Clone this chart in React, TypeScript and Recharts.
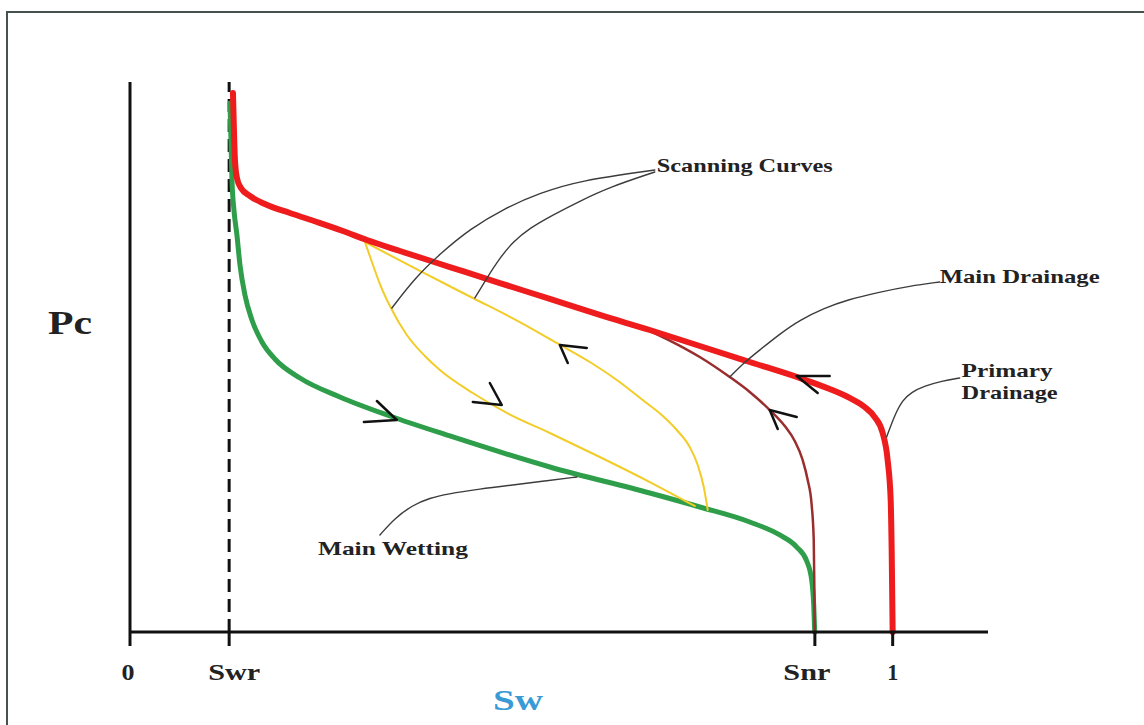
import React from "react";
import { LineChart, Line, XAxis, YAxis, ReferenceLine, ReferenceDot, Label } from "recharts";

// Capillary pressure hysteresis sketch: Pc against water saturation Sw.
// Each curve is a list of [Sw, Pc] pairs (Pc scaled 0..1).

const SWR = 0.13;
const SNR = 0.898;
const SW_MAX = 1.125;

const xTicks = [0, SWR, SNR, 1];
const xTickLabels = ["0", "Swr", "Snr", "1"];

const primaryDrainage = [
  [0.135, 0.98], [0.1363, 0.9127], [0.1376, 0.8582], [0.1402, 0.8255], [0.1455, 0.8073],
  [0.1573, 0.7927], [0.1769, 0.7782], [0.2097, 0.7618], [0.2451, 0.7455], [0.2792, 0.7291],
  [0.3106, 0.7127], [0.3539, 0.6927], [0.4194, 0.6636], [0.4849, 0.6345], [0.5505, 0.6055],
  [0.616, 0.5764], [0.6815, 0.5491], [0.7471, 0.52], [0.8126, 0.4909], [0.8781, 0.4618],
  [0.9174, 0.4418], [0.9436, 0.4255], [0.9633, 0.4091], [0.9764, 0.3909], [0.9869, 0.3618],
  [0.9934, 0.3127], [0.9974, 0.24], [0.9987, 0.1491], [1.0, 0],
];

const mainWetting = [
  [0.1311, 0.9618], [0.1324, 0.8945], [0.1337, 0.8218], [0.1363, 0.7673], [0.1402, 0.7218],
  [0.1442, 0.6673], [0.1507, 0.6127], [0.1599, 0.5673], [0.173, 0.5273], [0.19, 0.4964],
  [0.2228, 0.4618], [0.2752, 0.4273], [0.3408, 0.3927], [0.4194, 0.3564], [0.5505, 0.3],
  [0.6815, 0.2527], [0.7471, 0.2273], [0.8126, 0.2], [0.8519, 0.1764], [0.8742, 0.1545],
  [0.8873, 0.1291], [0.8938, 0.0945], [0.8965, 0.0491], [0.8978, 0],
];

const mainDrainage = [
  [0.6815, 0.5473], [0.7038, 0.5327], [0.7471, 0.5], [0.7864, 0.4636], [0.8126, 0.4364],
  [0.8388, 0.4036], [0.8585, 0.3745], [0.8716, 0.3473], [0.882, 0.3127], [0.8886, 0.2764],
  [0.8938, 0.2309], [0.8965, 0.1673], [0.8972, 0.0945], [0.8978, 0],
];

const scanWetting = [
  [0.308, 0.7091], [0.3172, 0.6727], [0.3277, 0.6327], [0.3408, 0.5927], [0.363, 0.54],
  [0.3866, 0.5018], [0.4063, 0.4764], [0.4495, 0.4345], [0.4941, 0.3982], [0.5505, 0.3618],
  [0.616, 0.3182], [0.6815, 0.2727], [0.7405, 0.2291],
];

const scanDrainage = [
  [0.308, 0.7091], [0.3801, 0.6564], [0.4495, 0.6073], [0.5111, 0.5636], [0.5596, 0.5255],
  [0.6029, 0.4909], [0.6383, 0.4582], [0.6723, 0.4218], [0.6972, 0.3945], [0.7169, 0.3673],
  [0.7339, 0.3364], [0.7444, 0.3036], [0.7523, 0.2636], [0.7575, 0.2218],
];

// Leader lines from the annotations to their curves
const leaderScanA = [
  [0.3434, 0.5891], [0.3736, 0.6436], [0.4063, 0.6873], [0.4456, 0.7327], [0.4915, 0.7709],
  [0.5374, 0.7982], [0.5898, 0.8209], [0.6881, 0.84],
];
const leaderScanB = [
  [0.4522, 0.6073], [0.4679, 0.6436], [0.4849, 0.68], [0.502, 0.7091], [0.5242, 0.7345],
  [0.5544, 0.7582], [0.5898, 0.7836], [0.6291, 0.8091], [0.6881, 0.8364],
];
const leaderMainDrainage = [
  [0.7864, 0.4636], [0.806, 0.4909], [0.8257, 0.5127], [0.8519, 0.5418], [0.8781, 0.5673],
  [0.9109, 0.5891], [0.9397, 0.6036], [0.983, 0.6182], [1.0223, 0.6291], [1.0616, 0.6364],
];
const leaderPrimary = [
  [0.9921, 0.3545], [1.0026, 0.3945], [1.0131, 0.4218], [1.0249, 0.4364], [1.0419, 0.4473],
  [1.0642, 0.4564], [1.0878, 0.4618],
];
const leaderWetting = [
  [0.3277, 0.1764], [0.3473, 0.2073], [0.3709, 0.2309], [0.3932, 0.2436], [0.4155, 0.2509],
  [0.4587, 0.26], [0.502, 0.2673], [0.5439, 0.2745], [0.5858, 0.2818],
];

// Direction chevrons: arm, tip, arm
const arrowWetting = [[0.3237, 0.42], [0.3499, 0.3855], [0.3067, 0.3818]];
const arrowScanWetting = [[0.4718, 0.4527], [0.4875, 0.4127], [0.4495, 0.4182]];
const arrowScanDrainage = [[0.599, 0.5164], [0.5636, 0.5218], [0.574, 0.4891]];
const arrowPrimary = [[0.9174, 0.4655], [0.8742, 0.4655], [0.9017, 0.4345]];
const arrowMainDrainage = [[0.8742, 0.3909], [0.8388, 0.4036], [0.8493, 0.3691]];

// Annotation texts and their anchors (Sw, Pc)
const noteTexts = ["Scanning Curves", "Main Drainage", "Primary", "Drainage", "Main Wetting"];
const noteSw = [0.6907, 1.0616, 1.0904, 1.0904, 0.2464];
const notePc = [0.8364, 0.6345, 0.4636, 0.4236, 0.14];

const toRows = (pairs: number[][]) => pairs.map(([sw, pc]) => ({ sw, pc }));

const SERIF = "'Liberation Serif', 'Times New Roman', serif";
const INK = "#222";

// Text widths (px) so the bold serif lettering spreads like the drawing
const noteWidths: Record<string, number> = {
  "Scanning Curves": 176,
  "Main Drainage": 160,
  Primary: 91,
  Drainage: 96,
  "Main Wetting": 150,
};

const StretchText = ({ x, y, width, size, fill = INK, anchor = "start", children }: any) => (
  <text
    x={x}
    y={y}
    fontFamily={SERIF}
    fontWeight="bold"
    fontSize={size}
    fill={fill}
    textAnchor={anchor}
    textLength={width}
    lengthAdjust="spacingAndGlyphs"
  >
    {children}
  </text>
);

const tickWidths = [13, 52, 47, 11];
const tickDx = [-2, 5, -8, 0];

const SwTick = (props: any) => {
  const { x, y, payload } = props;
  const i = xTicks.indexOf(payload.value);
  return (
    <StretchText x={x + tickDx[i]} y={y + 32} width={tickWidths[i]} size={24} anchor="middle">
      {xTickLabels[i]}
    </StretchText>
  );
};

const SwTitle = (props: any) => {
  const { x, y, width } = props.viewBox;
  return (
    <StretchText x={x + width / 2 - 41} y={y + 78} width={50} size={30} anchor="middle" fill="#3a9ad6">
      Sw
    </StretchText>
  );
};

const PcTitle = (props: any) => {
  const { x, y, width, height } = props.viewBox;
  return (
    <StretchText x={x + width - 60} y={y + height / 2 - 23} width={44} size={33} anchor="middle">
      Pc
    </StretchText>
  );
};

const curve = (data: number[][], stroke: string, width: number, key: string, type: any = "monotone") => (
  <Line
    key={key}
    data={toRows(data)}
    dataKey="pc"
    type={type}
    stroke={stroke}
    strokeWidth={width}
    strokeLinecap="round"
    strokeLinejoin="round"
    dot={false}
    activeDot={false}
    isAnimationActive={false}
  />
);

export default function App() {
  return (
    <div
      style={{
        position: "absolute",
        left: 0,
        top: 0,
        width: 1144,
        height: 725,
        background: "#fff",
        overflow: "hidden",
      }}
    >
      <div
        style={{
          position: "absolute",
          left: 6,
          top: 11,
          width: 1200,
          height: 800,
          borderTop: "2px solid #46524f",
          borderLeft: "2px solid #46524f",
        }}
      />
      <LineChart
        width={1144}
        height={725}
        margin={{ top: 82, right: 156, bottom: 0, left: 120 }}
        style={{ position: "absolute", left: 0, top: 0 }}
      >
        <XAxis
          type="number"
          dataKey="sw"
          domain={[0, SW_MAX]}
          ticks={xTicks}
          interval={0}
          height={93}
          allowDataOverflow
          axisLine={{ stroke: "#111", strokeWidth: 3 }}
          tickLine={{ stroke: "#111", strokeWidth: 3 }}
          tickSize={14}
          tick={<SwTick />}
          label={<Label content={SwTitle} />}
        />
        <YAxis
          type="number"
          domain={[0, 1]}
          width={10}
          tick={false}
          tickLine={false}
          axisLine={{ stroke: "#111", strokeWidth: 3 }}
          label={<Label content={PcTitle} />}
        />
        <ReferenceLine x={SWR} stroke="#111" strokeWidth={3} strokeDasharray="13 7" />

        {curve(mainWetting, "#2f9e4b", 5, "wet")}
        {curve(scanWetting, "#f2cc28", 2, "sw1")}
        {curve(scanDrainage, "#f2cc28", 2, "sd1")}
        {curve(mainDrainage, "#9a2d2d", 2.5, "md")}
        {curve(primaryDrainage, "#ee1c1c", 6, "pd")}

        {curve(leaderScanA, "#3c3c3c", 1.4, "l1", "basis")}
        {curve(leaderScanB, "#3c3c3c", 1.4, "l2", "basis")}
        {curve(leaderMainDrainage, "#3c3c3c", 1.4, "l3", "basis")}
        {curve(leaderPrimary, "#3c3c3c", 1.4, "l4", "basis")}
        {curve(leaderWetting, "#3c3c3c", 1.4, "l5", "basis")}

        {curve(arrowWetting, "#111", 2.5, "a1", "linear")}
        {curve(arrowScanWetting, "#111", 2.5, "a2", "linear")}
        {curve(arrowScanDrainage, "#111", 2.5, "a3", "linear")}
        {curve(arrowPrimary, "#111", 2.5, "a4", "linear")}
        {curve(arrowMainDrainage, "#111", 2.5, "a5", "linear")}

        {noteTexts.map((t, i) => (
          <ReferenceDot
            key={t}
            x={noteSw[i]}
            y={notePc[i]}
            r={0}
            shape={(p: any) => (
              <StretchText x={p.cx} y={p.cy} width={noteWidths[t]} size={19}>
                {t}
              </StretchText>
            )}
          />
        ))}
      </LineChart>
    </div>
  );
}
